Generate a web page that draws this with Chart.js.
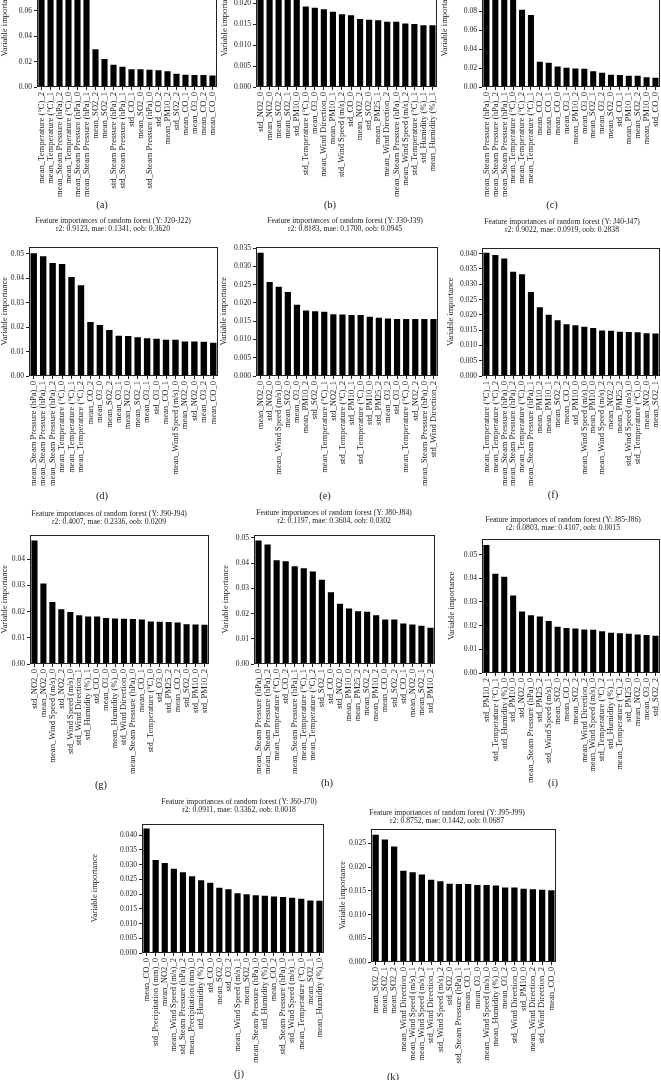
<!DOCTYPE html>
<html><head><meta charset="utf-8">
<script src="https://cdn.jsdelivr.net/npm/chart.js@4.4.0/dist/chart.umd.min.js"></script>
<style>
html,body{margin:0;padding:0;background:#fff;}
body{width:661px;height:1080px;position:relative;overflow:hidden;font-family:"Liberation Serif","Times New Roman",serif;}
canvas{position:absolute;}
.ttl{position:absolute;width:300px;margin-left:-150px;text-align:center;font-size:7.7px;line-height:8.6px;color:#222;white-space:nowrap;}
.lab{position:absolute;width:40px;margin-left:-20px;text-align:center;font-size:10.5px;line-height:12px;color:#222;}
</style></head><body>
<script>
// ---------- data ----------
const labelsA = ["mean_Temperature (°C)_2","mean_Temperature (°C)_1","mean_Steam Pressure (hPa)_2","mean_Temperature (°C)_0","mean_Steam Pressure (hPa)_0","mean_Steam Pressure (hPa)_1","mean_SO2_2","mean_SO2_1","std_Steam Pressure (hPa)_2","std_Steam Pressure (hPa)_1","std_CO_1","mean_SO2_0","std_Steam Pressure (hPa)_0","std_CO_2","mean_PM10_2","std_SO2_2","mean_CO_1","mean_O3_0","mean_CO_2","mean_CO_0"];
const valuesA = [0.097,0.094,0.090,0.088,0.085,0.083,0.0298,0.0220,0.0175,0.0160,0.0140,0.0140,0.0135,0.0132,0.0125,0.0105,0.0096,0.0095,0.0095,0.0090];

const labelsB = ["std_NO2_0","mean_NO2_0","mean_SO2_2","mean_SO2_1","std_PM10_0","std_Temperature (°C)_0","mean_O3_0","mean_Wind Direction_0","mean_PM10_1","std_Wind Speed (m/s)_2","std_CO_0","mean_NO2_2","std_SO2_0","mean_PM25_1","mean_Wind Direction_2","mean_Steam Pressure (hPa)_0","mean_Wind Speed (m/s)_2","std_Temperature (°C)_1","std_Humidity (%)_1","mean_Humidity (%)_1"];
const valuesB = [0.029,0.0275,0.026,0.024,0.022,0.0193,0.0190,0.0186,0.0180,0.0174,0.0172,0.0163,0.0161,0.0160,0.0156,0.0156,0.0152,0.0151,0.0148,0.0148];

const labelsC = ["mean_Steam Pressure (hPa)_0","mean_Steam Pressure (hPa)_2","mean_Steam Pressure (hPa)_1","mean_Temperature (°C)_0","mean_Temperature (°C)_2","mean_Temperature (°C)_1","mean_CO_2","mean_CO_1","mean_CO_0","mean_O3_1","mean_PM10_2","mean_O3_0","mean_SO2_1","mean_O3_2","mean_SO2_0","std_CO_1","mean_PM10_1","mean_SO2_2","mean_PM10_0","std_CO_0"];
const valuesC = [0.130,0.125,0.120,0.110,0.0817,0.0761,0.0267,0.0256,0.0218,0.0204,0.0197,0.0193,0.0168,0.0151,0.0130,0.0128,0.0120,0.0120,0.0102,0.0099];

const labelsD = ["mean_Steam Pressure (hPa)_0","mean_Steam Pressure (hPa)_1","mean_Steam Pressure (hPa)_2","mean_Temperature (°C)_0","mean_Temperature (°C)_1","mean_Temperature (°C)_2","mean_CO_2","mean_O3_0","mean_SO2_2","mean_O3_1","mean_NO2_0","mean_SO2_1","mean_O3_1","std_O3_0","mean_CO_1","mean_Wind Speed (m/s)_0","mean_NO2_0","std_NO2_0","mean_O3_2","mean_CO_0"];
const valuesD = [0.0503,0.0490,0.0463,0.0459,0.0405,0.0372,0.0221,0.0209,0.0188,0.0165,0.0164,0.0159,0.0155,0.0153,0.0148,0.0148,0.0141,0.0141,0.0140,0.0136];

const labelsE = ["mean_NO2_0","std_NO2_0","mean_Wind Speed (m/s)_0","mean_SO2_0","mean_O3_0","mean_PM10_2","std_SO2_0","mean_Temperature (°C)_1","std_NO2_1","std_Temperature (°C)_2","std_PM10_1","std_Temperature (°C)_0","std_PM10_0","std_PM25_2","mean_O3_2","std_O3_0","mean_Temperature (°C)_0","std_NO2_2","mean_Steam Pressure (hPa)_0","std_Wind Direction_2"];
const valuesE = [0.0337,0.0257,0.0244,0.0230,0.0195,0.0179,0.0177,0.0176,0.0169,0.0168,0.0167,0.0167,0.0162,0.0159,0.0157,0.0156,0.0156,0.0156,0.0156,0.0156];

const labelsF = ["mean_Temperature (°C)_1","mean_Temperature (°C)_2","mean_Steam Pressure (hPa)_0","mean_Steam Pressure (hPa)_2","mean_Temperature (°C)_0","mean_Steam Pressure (hPa)_1","mean_PM10_2","mean_PM10_1","mean_SO2_2","mean_CO_2","std_PM10_0","mean_Wind Speed (m/s)_0","mean_PM10_0","mean_Wind Speed (m/s)_2","mean_NO2_2","mean_PM25_2","std_Wind Speed (m/s)_0","std_Temperature (°C)_0","mean_NO2_0","mean_SO2_1"];
const valuesF = [0.0403,0.0396,0.0384,0.0341,0.0333,0.0275,0.0225,0.0200,0.0182,0.0169,0.0166,0.0161,0.0157,0.0149,0.0148,0.0145,0.0144,0.0143,0.0140,0.0139];

const labelsG = ["std_NO2_0","mean_NO2_0","mean_Wind Speed (m/s)_0","std_NO2_2","std_Wind Speed (m/s)_0","std_Wind Direction_1","std_Humidity (%)_1","std_CO_0","mean_O3_0","mean_Humidity (%)_0","std_Wind Direction_0","mean_Steam Pressure (hPa)_0","mean_CO_1","std_Temperature (°C)_0","std_O3_0","std_PM25_2","mean_CO_2","std_SO2_0","std_PM10_0","std_PM10_2"];
const valuesG = [0.0471,0.0307,0.0237,0.0209,0.0198,0.0186,0.0181,0.0181,0.0176,0.0174,0.0173,0.0172,0.0170,0.0162,0.0161,0.0160,0.0158,0.0152,0.0151,0.0150];

const labelsH = ["mean_Steam Pressure (hPa)_0","mean_Steam Pressure (hPa)_2","mean_Temperature (°C)_0","std_CO_2","mean_Steam Pressure (hPa)_1","mean_Temperature (°C)_1","mean_Temperature (°C)_2","std_SO2_1","std_CO_0","std_NO2_0","mean_PM10_0","mean_PM25_2","mean_SO2_2","mean_PM10_2","mean_CO_0","std_SO2_2","std_CO_1","mean_NO2_0","mean_SO2_1","std_PM10_2"];
const valuesH = [0.0489,0.0474,0.0411,0.0407,0.0387,0.0379,0.0367,0.0334,0.0284,0.0239,0.0220,0.0209,0.0207,0.0193,0.0176,0.0176,0.0161,0.0157,0.0152,0.0144];

const labelsI = ["std_PM10_2","std_Temperature (°C)_1","std_Humidity (%)_0","std_PM10_0","std_NO2_0","mean_Steam Pressure (hPa)_0","std_PM25_2","std_Wind Speed (m/s)_1","mean_SO2_0","mean_CO_2","mean_SO2_2","mean_Wind Direction_2","mean_Wind Speed (m/s)_0","std_Temperature (°C)_2","std_Humidity (%)_1","mean_Temperature (°C)_2","std_PM25_0","mean_NO2_0","mean_O3_0","std_SO2_2"];
const valuesI = [0.0541,0.0419,0.0407,0.0327,0.0260,0.0244,0.0239,0.0220,0.0195,0.0190,0.0188,0.0184,0.0183,0.0176,0.0170,0.0168,0.0166,0.0163,0.0161,0.0157];

const labelsJ = ["mean_CO_0","std_Precipitation (mm)_0","mean_NO2_0","mean_Wind Speed (m/s)_2","std_Steam Pressure (hPa)_2","mean_Precipitation (mm)_0","std_Humidity (%)_2","std_CO_0","mean_SO2_0","std_O3_2","mean_Wind Speed (m/s)_1","mean_SO2_0","mean_Steam Pressure (hPa)_0","std_Humidity (%)_0","mean_CO_2","std_Steam Pressure (hPa)_0","std_Wind Speed (m/s)_1","mean_Temperature (°C)_0","mean_SO2_1","mean_Humidity (%)_0"];
const valuesJ = [0.0422,0.0315,0.0305,0.0286,0.0274,0.0260,0.0247,0.0238,0.0221,0.0216,0.0203,0.0199,0.0196,0.0194,0.0192,0.0190,0.0187,0.0184,0.0178,0.0177];

const labelsK = ["mean_SO2_0","mean_SO2_1","mean_SO2_2","mean_Wind Direction_0","mean_Wind Speed (m/s)_1","mean_Wind Speed (m/s)_2","std_Wind Direction_1","std_Wind Speed (m/s)_2","std_SO2_0","std_Steam Pressure (hPa)_1","mean_CO_1","mean_O3_0","mean_Wind Speed (m/s)_0","mean_Humidity (%)_0","mean_O3_2","std_Wind Direction_0","std_PM10_0","mean_Wind Direction_2","std_Wind Direction_2","mean_CO_0"];
const valuesK = [0.0268,0.0258,0.0243,0.0192,0.0189,0.0184,0.0173,0.0170,0.0165,0.0164,0.0164,0.0162,0.0162,0.0161,0.0157,0.0157,0.0154,0.0153,0.0152,0.0151];

const titleLine1 = "Feature importances of random forest (Y: ";
const targetsY = {d:"J20-J22", e:"J30-J39", f:"J40-J47", g:"J90-J94", h:"J80-J84", i:"J85-J86", j:"J60-J70", k:"J95-J99"};
const metrics = {
  d:"r2: 0.9123, mae: 0.1341, oob: 0.3620",
  e:"r2: 0.8183, mae: 0.1700, oob: 0.0945",
  f:"r2: 0.9022, mae: 0.0919, oob: 0.2838",
  g:"r2: 0.4007, mae: 0.2336, oob: 0.0209",
  h:"r2: 0.1197, mae: 0.3604, oob: 0.0302",
  i:"r2: 0.0803, mae: 0.4107, oob: 0.0015",
  j:"r2: 0.0911, mae: 0.3362, oob: 0.0018",
  k:"r2: 0.8752, mae: 0.1442, oob: 0.0687"
};
const yAxisTitle = "Variable importance";

// ---------- layout (page coordinates) ----------
const panels = [
  {id:'a', labels:labelsA, values:valuesA, max:0.102, step:0.02, dec:2, L:37, R:217, T:-43, B:87, yW:37, lab:[102,205]},
  {id:'b', labels:labelsB, values:valuesB, max:0.031, step:0.005, dec:3, L:256, R:437, T:-43, B:87, yW:36, lab:[330,205]},
  {id:'c', labels:labelsC, values:valuesC, max:0.137, step:0.02, dec:2, L:482, R:660, T:-43, B:87, yW:42, lab:[552,205]},
  {id:'d', labels:labelsD, values:valuesD, max:0.053, step:0.01, dec:2, L:29, R:218, T:246, B:376, yW:29, lab:[102,496], tt:[113,221]},
  {id:'e', labels:labelsE, values:valuesE, max:0.0354, step:0.005, dec:3, L:256, R:438, T:246, B:376, yW:37, lab:[325,496], tt:[345,221]},
  {id:'f', labels:labelsF, values:valuesF, max:0.042, step:0.005, dec:3, L:482, R:660, T:247, B:376, yW:36, lab:[553,495], tt:[562,222]},
  {id:'g', labels:labelsG, values:valuesG, max:0.0494, step:0.01, dec:2, L:30, R:209, T:534, B:664, yW:30, lab:[101,785], tt:[109,514]},
  {id:'h', labels:labelsH, values:valuesH, max:0.0513, step:0.01, dec:2, L:254, R:435, T:534, B:664, yW:33, lab:[327,783], tt:[334,513]},
  {id:'i', labels:labelsI, values:valuesI, max:0.0568, step:0.01, dec:2, L:482, R:660, T:538, B:673, yW:35, lab:[553,783], tt:[563,520]},
  {id:'j', labels:labelsJ, values:valuesJ, max:0.0439, step:0.005, dec:3, L:142, R:324, T:823, B:953, yW:52, lab:[239,1074], tt:[239,802]},
  {id:'k', labels:labelsK, values:valuesK, max:0.0281, step:0.005, dec:3, L:371, R:556, T:828, B:962, yW:33, lab:[393,1077], tt:[447,813]}
];

const PAD_T = 6, PAD_R = 8, XH = 124;
const FONT = "'Liberation Serif', 'Times New Roman', serif";

const boxPlugin = {
  id:'box',
  afterDraw(chart){
    const a = chart.chartArea, ctx = chart.ctx;
    ctx.save();
    ctx.strokeStyle = '#222';
    ctx.lineWidth = 1;
    ctx.strokeRect(Math.round(a.left)+0.5, Math.round(a.top)+0.5, Math.round(a.right-a.left)-1, Math.round(a.bottom-a.top)-1);
    ctx.restore();
  }
};

panels.forEach(p => {
  const cv = document.createElement('canvas');
  const w = p.yW + (p.R - p.L) + PAD_R;
  const h = PAD_T + (p.B - p.T) + XH;
  cv.width = w; cv.height = h;
  cv.style.left = (p.L - p.yW) + 'px';
  cv.style.top = (p.T - PAD_T) + 'px';
  cv.style.width = w + 'px'; cv.style.height = h + 'px';
  document.body.appendChild(cv);

  if (p.tt) {
    const d = document.createElement('div');
    d.className = 'ttl';
    d.style.left = p.tt[0] + 'px';
    d.style.top = (p.tt[1] - 4.3) + 'px';
    d.innerHTML = titleLine1 + targetsY[p.id] + ')<br>' + metrics[p.id];
    document.body.appendChild(d);
  }
  const l = document.createElement('div');
  l.className = 'lab';
  l.style.left = p.lab[0] + 'px';
  l.style.top = (p.lab[1] - 6) + 'px';
  l.textContent = '(' + p.id + ')';
  document.body.appendChild(l);

  new Chart(cv, {
    type:'bar',
    data:{ labels:p.labels, datasets:[{ data:p.values, backgroundColor:'#000', borderWidth:0, barPercentage:0.68, categoryPercentage:1.0 }]},
    options:{
      responsive:false, animation:false, devicePixelRatio:1,
      layout:{ padding:{ top:PAD_T, right:PAD_R, left:0, bottom:0 } },
      plugins:{ legend:{display:false}, tooltip:{enabled:false}, title:{display:false} },
      scales:{
        x:{
          offset:true,
          afterFit: s => { s.height = XH; },
          grid:{ display:true, drawOnChartArea:false, drawTicks:true, tickLength:3, offset:false, color:'#222' },
          border:{ display:false },
          ticks:{ autoSkip:false, maxRotation:90, minRotation:90, padding:2, color:'#222', font:{ family:FONT, size:8.6 } }
        },
        y:{
          min:0, max:p.max,
          afterFit: s => { s.width = p.yW; },
          grid:{ display:true, drawOnChartArea:false, drawTicks:true, tickLength:3, color:'#222' },
          border:{ display:false },
          ticks:{ stepSize:p.step, includeBounds:false, padding:2, color:'#222', font:{ family:FONT, size:7.6 },
                  callback: v => Number(v).toFixed(p.dec) },
          title:{ display:true, text:yAxisTitle, color:'#222', padding:{top:0,bottom:0}, font:{ family:FONT, size:8.5 } }
        }
      }
    },
    plugins:[boxPlugin]
  });
});
</script>
</body></html>
